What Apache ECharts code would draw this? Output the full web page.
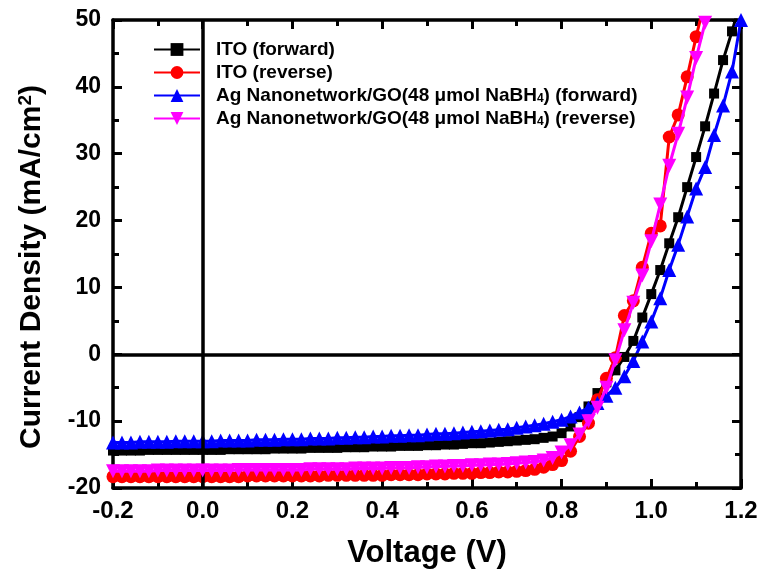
<!DOCTYPE html>
<html lang="en" style="height: 100%">
<head>
    <meta charset="UTF-8">
    <title>J-V curves</title>
    <script src="https://cdn.jsdelivr.net/npm/echarts@6/dist/echarts.min.js"></script>
</head>
<body style="height: 100%; margin: 0">
<div id="main" style="width: 765px; height: 581px"></div>
<script>
    // voltage steps, -0.2 V to 1.2 V every 0.02 V
    var voltage = [-0.2, -0.18, -0.16, -0.14, -0.12, -0.1, -0.08, -0.06, -0.04, -0.02,
        0.0, 0.02, 0.04, 0.06, 0.08, 0.1, 0.12, 0.14, 0.16, 0.18,
        0.2, 0.22, 0.24, 0.26, 0.28, 0.3, 0.32, 0.34, 0.36, 0.38,
        0.4, 0.42, 0.44, 0.46, 0.48, 0.5, 0.52, 0.54, 0.56, 0.58,
        0.6, 0.62, 0.64, 0.66, 0.68, 0.7, 0.72, 0.74, 0.76, 0.78,
        0.8, 0.82, 0.84, 0.86, 0.88, 0.9, 0.92, 0.94, 0.96, 0.98,
        1.0, 1.02, 1.04, 1.06, 1.08, 1.1, 1.12, 1.14, 1.16, 1.18, 1.2];

    var itoForward = [-14.4, -14.4, -14.4, -14.4, -14.3, -14.3, -14.3, -14.3, -14.3, -14.3,
        -14.3, -14.3, -14.3, -14.2, -14.2, -14.2, -14.2, -14.2, -14.1, -14.1,
        -14.1, -14.1, -14.0, -14.0, -14.0, -14.0, -13.9, -13.9, -13.9, -13.8,
        -13.8, -13.8, -13.7, -13.7, -13.7, -13.6, -13.6, -13.5, -13.5, -13.4,
        -13.3, -13.3, -13.2, -13.1, -13.0, -12.9, -12.8, -12.7, -12.5, -12.3,
        -11.8, -10.8, -9.4, -7.8, -5.8, -4.2, -2.4, -0.4, 2.0, 5.5,
        9.0, 12.6, 16.6, 20.5, 25.0, 29.5, 34.1, 39.0, 44.0, 48.3, 53.0];

    var itoReverse = [-18.3, -18.3, -18.3, -18.3, -18.3, -18.3, -18.3, -18.3, -18.3, -18.3,
        -18.3, -18.3, -18.3, -18.3, -18.3, -18.2, -18.2, -18.2, -18.2, -18.2,
        -18.2, -18.2, -18.2, -18.2, -18.1, -18.1, -18.1, -18.1, -18.1, -18.1,
        -18.1, -18.0, -18.0, -18.0, -18.0, -17.9, -17.9, -17.9, -17.8, -17.8,
        -17.8, -17.7, -17.7, -17.6, -17.6, -17.5, -17.4, -17.2, -16.9, -16.5,
        -15.9, -14.5, -12.3, -10.3, -6.8, -3.6, -0.5, 5.8, 8.0, 13.0,
        18.1, 19.2, 32.5, 35.8, 41.5, 47.5, 53.0, null, null, null, null];

    var agForward = [-13.2, -13.2, -13.2, -13.1, -13.1, -13.1, -13.1, -13.0, -13.0, -13.0,
        -13.0, -13.0, -12.9, -12.9, -12.9, -12.9, -12.8, -12.8, -12.8, -12.7,
        -12.7, -12.7, -12.6, -12.6, -12.6, -12.5, -12.5, -12.4, -12.4, -12.3,
        -12.3, -12.2, -12.2, -12.1, -12.1, -12.0, -11.9, -11.9, -11.8, -11.7,
        -11.6, -11.5, -11.4, -11.3, -11.2, -11.0, -10.8, -10.6, -10.4, -10.1,
        -9.8, -9.3, -8.7, -8.0, -7.3, -6.2, -5.0, -3.3, -1.0, 1.9,
        4.9, 8.4, 12.6, 16.4, 20.6, 24.8, 28.0, 32.8, 37.2, 42.3, 50.0];

    var agReverse = [-17.5, -17.5, -17.5, -17.5, -17.5, -17.4, -17.4, -17.4, -17.4, -17.4,
        -17.4, -17.4, -17.4, -17.4, -17.3, -17.3, -17.3, -17.3, -17.3, -17.3,
        -17.3, -17.3, -17.2, -17.2, -17.2, -17.2, -17.2, -17.1, -17.1, -17.1,
        -17.1, -17.0, -17.0, -17.0, -16.9, -16.9, -16.8, -16.8, -16.7, -16.7,
        -16.6, -16.6, -16.5, -16.5, -16.4, -16.3, -16.2, -16.1, -15.9, -15.5,
        -14.7, -13.6, -12.0, -10.0, -8.0, -5.0, -0.9, 3.6, 7.7, 11.8,
        16.9, 22.4, 28.2, 33.0, 38.4, 44.3, 49.6, 55.0, null, null, null];

    var seriesNames = ['ITO (forward)', 'ITO (reverse)',
        'Ag Nanonetwork/GO(48 \u03bcmol NaBH4) (forward)',
        'Ag Nanonetwork/GO(48 \u03bcmol NaBH4) (reverse)'];

    function pairs(ys) {
        return voltage.map(function (v, i) { return [v, ys[i]]; });
    }

    var font = 'Liberation Sans, Arial, sans-serif';

    function makeAxis(pos, showLabel, isX) {
        return {
            type: 'value',
            position: pos,
            min: isX ? -0.2 : -20,
            max: isX ? 1.2 : 50,
            interval: isX ? 0.2 : 10,
            splitLine: {show: false},
            axisLine: {show: true, onZero: false, lineStyle: {color: '#000', width: 3.5}},
            axisTick: {show: true, inside: true, length: 9, lineStyle: {color: '#000', width: 3}},
            minorTick: {show: true, splitNumber: 2, length: 6, lineStyle: {color: '#000', width: 3}},
            axisLabel: {
                show: showLabel,
                color: '#000',
                fontFamily: font,
                fontWeight: 'bold',
                fontSize: isX ? 24 : 23,
                margin: isX ? 11 : 12,
                formatter: isX ? function (v) {
                    return Math.abs(v) < 1e-9 ? '0.0' : v.toFixed(1);
                } : '{value}'
            }
        };
    }

    var xMain = makeAxis('bottom', true, true);
    xMain.name = 'Voltage (V)';
    xMain.nameLocation = 'middle';
    xMain.nameGap = 50;
    xMain.nameTextStyle = {color: '#000', fontFamily: font, fontWeight: 'bold', fontSize: 31};

    var yMain = makeAxis('left', true, false);
    yMain.name = 'Current Density (mA/cm{sup|2})';
    yMain.nameLocation = 'middle';
    yMain.nameGap = 66;
    yMain.nameTextStyle = {
        color: '#000', fontFamily: font, fontWeight: 'bold', fontSize: 30,
        padding: [0, 26, 0, 0],
        rich: {sup: {fontFamily: font, fontWeight: 'bold', fontSize: 19, verticalAlign: 'top', color: '#000', padding: [0, 0, 12, 0]}}
    };

    var colors = ['#000000', '#ff0000', '#0000ff', '#ff00ff'];
    var symbols = ['rect', 'circle', 'triangle', 'triangle'];
    var sizes = [10, 13, 14, 14];
    var rotates = [0, 0, 0, 180];
    var values = [itoForward, itoReverse, agForward, agReverse];

    var series = values.map(function (ys, k) {
        var s = {
            name: seriesNames[k],
            type: 'line',
            data: pairs(ys),
            symbol: symbols[k],
            symbolSize: sizes[k],
            symbolRotate: rotates[k],
            showAllSymbol: true,
            connectNulls: false,
            clip: true,
            lineStyle: {color: colors[k], width: 3},
            itemStyle: {color: colors[k]},
            z: 2 + k
        };
        if (k === 0) {
            s.markLine = {
                silent: true,
                symbol: 'none',
                label: {show: false},
                lineStyle: {color: '#000', width: 3.5, type: 'solid'},
                data: [{xAxis: 0}, {yAxis: 0}]
            };
        }
        return s;
    });

    var myoption = {
        animation: false,
        backgroundColor: '#fff',
        grid: {left: 113, right: 24, top: 20, bottom: 93},
        legend: {
            orient: 'vertical',
            left: 148,
            top: 35,
            itemWidth: 46,
            itemHeight: 16,
            itemGap: 4,
            data: seriesNames,
            formatter: function (name) {
                return name.replace('NaBH4', 'NaBH{sub|4}');
            },
            textStyle: {
                color: '#000', fontFamily: font, fontWeight: 'bold', fontSize: 19, lineHeight: 19,
                padding: [0, 0, 0, 11],
                rich: {sub: {fontFamily: font, fontWeight: 'bold', fontSize: 12, lineHeight: 12, verticalAlign: 'bottom', color: '#000'}}
            }
        },
        xAxis: [xMain, makeAxis('top', false, true)],
        yAxis: [yMain, makeAxis('right', false, false)],
        series: series
    };

    var myChart = echarts.init(document.getElementById('main'));
    myChart.setOption(myoption);
</script>
</body>
</html>
